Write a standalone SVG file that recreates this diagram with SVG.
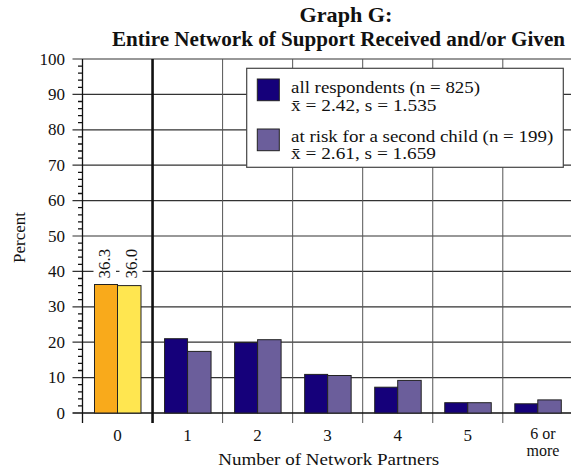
<svg xmlns="http://www.w3.org/2000/svg" width="571" height="476" viewBox="0 0 571 476">
<style>
text{font-family:"Liberation Serif",serif;fill:#111}
.title{font-size:20px;font-weight:bold;text-anchor:middle}
.tick{font-size:17px;text-anchor:end}
.cat{font-size:17px;text-anchor:middle}
.cat2{font-size:16px;text-anchor:middle}
.lab{font-size:17px}
.leg{font-size:17px}
.grid{stroke:#333;stroke-width:1.2;fill:none}
.vgrid{stroke:#555;stroke-width:1;fill:none}
.axis{stroke:#111;stroke-width:1.3;fill:none}
.bar{stroke:#222;stroke-width:1}
.a{fill:#15007A}
.b{fill:#6B5E9B}
.o{fill:#F9AA1B}
.y{fill:#FFE650}
</style>
<rect width="571" height="476" fill="#fff"/>
<g id="title">
<text class="title" x="346" y="22" textLength="93" lengthAdjust="spacingAndGlyphs">Graph G:</text>
<text class="title" x="338.5" y="46" textLength="453" lengthAdjust="spacingAndGlyphs">Entire Network of Support Received and/or Given</text>
</g>
<g id="grid">
<path class="grid" d="M72.5 59H571M72.5 94.4H571M72.5 129.8H571M72.5 165.2H571M72.5 200.6H571M72.5 236H571M72.5 271.4H571M72.5 306.8H571M72.5 342.2H571M72.5 377.6H571"/>
<path class="vgrid" d="M222.6 59V423M292.65 59V423M362.7 59V423M432.75 59V423M502.8 59V423"/>
<path d="M152.55 59V423" stroke="#111" stroke-width="2.6" fill="none"/>
</g>
<g id="axes">
<path class="axis" d="M82.5 59V423M72.5 413H571"/>
<path class="axis" stroke-width="1" d="M78 405.9h4.5M78 398.8h4.5M78 391.8h4.5M78 384.7h4.5M78 370.5h4.5M78 363.4h4.5M78 356.4h4.5M78 349.3h4.5M78 335.1h4.5M78 328h4.5M78 321h4.5M78 313.9h4.5M78 299.7h4.5M78 292.6h4.5M78 285.6h4.5M78 278.5h4.5M78 264.3h4.5M78 257.2h4.5M78 250.2h4.5M78 243.1h4.5M78 228.9h4.5M78 221.8h4.5M78 214.8h4.5M78 207.7h4.5M78 193.5h4.5M78 186.4h4.5M78 179.4h4.5M78 172.3h4.5M78 158.1h4.5M78 151h4.5M78 144h4.5M78 136.9h4.5M78 122.7h4.5M78 115.6h4.5M78 108.6h4.5M78 101.5h4.5M78 87.3h4.5M78 80.2h4.5M78 73.2h4.5M78 66.1h4.5"/>
<text class="tick" x="65" y="64.5">100</text>
<text class="tick" x="65" y="99.9">90</text>
<text class="tick" x="65" y="135.3">80</text>
<text class="tick" x="65" y="170.7">70</text>
<text class="tick" x="65" y="206.1">60</text>
<text class="tick" x="65" y="241.5">50</text>
<text class="tick" x="65" y="276.9">40</text>
<text class="tick" x="65" y="312.3">30</text>
<text class="tick" x="65" y="347.7">20</text>
<text class="tick" x="65" y="383.1">10</text>
<text class="tick" x="65" y="418.5">0</text>
<text class="lab" transform="translate(25,237.5) rotate(-90)" text-anchor="middle">Percent</text>
<text class="cat" x="117.5" y="441">0</text>
<text class="cat" x="187.5" y="441">1</text>
<text class="cat" x="257.6" y="441">2</text>
<text class="cat" x="327.6" y="441">3</text>
<text class="cat" x="397.7" y="441">4</text>
<text class="cat" x="467.7" y="441">5</text>
<text class="cat2" x="543" y="439">6 or</text>
<text class="cat2" x="543" y="456">more</text>
<text class="lab" x="328.7" y="465" text-anchor="middle" textLength="221" lengthAdjust="spacingAndGlyphs">Number of Network Partners</text>
</g>
<g id="cat0">
<rect class="bar o" x="94.5" y="284.5" width="23" height="128.5"/>
<rect class="bar y" x="117.5" y="285.6" width="23.5" height="127.4"/>
<rect x="93.5" y="245" width="22.5" height="36" fill="#fff"/>
<rect x="119.5" y="245" width="23" height="36" fill="#fff"/>
<text class="lab" transform="translate(110,278.5) rotate(-90)">36.3</text>
<text class="lab" transform="translate(136.5,278.5) rotate(-90)">36.0</text>
</g>
<g id="cat1">
<rect class="bar a" x="164.55" y="338.7" width="23" height="74.3"/>
<rect class="bar b" x="187.55" y="351.4" width="23.5" height="61.6"/>
</g>
<g id="cat2">
<rect class="bar a" x="234.6" y="342.6" width="23" height="70.4"/>
<rect class="bar b" x="257.6" y="339.7" width="23.5" height="73.3"/>
</g>
<g id="cat3">
<rect class="bar a" x="304.65" y="374.4" width="23" height="38.6"/>
<rect class="bar b" x="327.65" y="375.5" width="23.5" height="37.5"/>
</g>
<g id="cat4">
<rect class="bar a" x="374.7" y="387.2" width="23" height="25.8"/>
<rect class="bar b" x="397.7" y="380.4" width="23.5" height="32.6"/>
</g>
<g id="cat5">
<rect class="bar a" x="444.75" y="402.7" width="23" height="10.3"/>
<rect class="bar b" x="467.75" y="402.7" width="23.5" height="10.3"/>
</g>
<g id="cat6">
<rect class="bar a" x="514.8" y="403.8" width="23" height="9.2"/>
<rect class="bar b" x="537.8" y="399.9" width="23.5" height="13.1"/>
</g>
<g id="legend">
<rect x="246.7" y="68.3" width="316.6" height="99" fill="#fff" stroke="#444" stroke-width="1.2"/>
<rect class="bar a" x="257.3" y="79" width="22" height="21.7"/>
<rect class="bar b" x="257.3" y="129" width="22" height="21.7"/>
<text class="leg" x="291" y="93.3" textLength="189" lengthAdjust="spacingAndGlyphs">all respondents (n = 825)</text>
<text class="leg" x="291" y="111" textLength="145.5" lengthAdjust="spacingAndGlyphs">x̄ = 2.42, s = 1.535</text>
<text class="leg" x="291" y="141.7" textLength="262.3" lengthAdjust="spacingAndGlyphs">at risk for a second child (n = 199)</text>
<text class="leg" x="291" y="159.3" textLength="145" lengthAdjust="spacingAndGlyphs">x̄ = 2.61, s = 1.659</text>
</g>
</svg>
